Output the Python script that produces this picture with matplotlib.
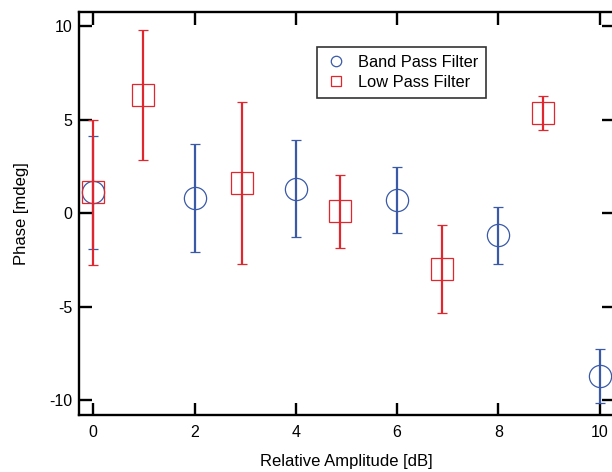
import matplotlib
matplotlib.use("Agg")
import matplotlib.pyplot as plt
from matplotlib.lines import Line2D

plt.rcParams["font.family"] = ["Liberation Sans", "DejaVu Sans"]
plt.rcParams["axes.unicode_minus"] = False

# Band pass filter data
bp_x = [0, 2, 4, 6, 8, 10]
bp_y = [1.1, 0.8, 1.3, 0.7, -1.2, -8.7]
bp_err = [3.0, 2.9, 2.6, 1.75, 1.5, 1.45]

# Low pass filter data
lp_x = [0, 0.99, 2.93, 4.87, 6.88, 8.88]
lp_y = [1.1, 6.3, 1.6, 0.1, -3.0, 5.35]
lp_err = [3.9, 3.47, 4.35, 1.95, 2.35, 0.9]

blue = "#3a5aa8"
red = "#e0262e"

fig = plt.figure(figsize=(6.12, 4.72), dpi=100)
ax = fig.add_axes([79 / 612, 1 - 415 / 472, 535 / 612, 403 / 472])

ax.errorbar(bp_x, bp_y, yerr=bp_err, fmt="o", ms=16, mfc="none", mec=blue,
            mew=0.9, ecolor=blue, elinewidth=1.6, capsize=3.6, capthick=1.6)
ax.errorbar(lp_x, lp_y, yerr=lp_err, fmt="s", ms=16.5, mfc="none", mec=red,
            mew=0.9, ecolor=red, elinewidth=1.6, capsize=3.6, capthick=1.6)

ax.set_xlim(-0.28, 10.28)
ax.set_ylim(-10.8, 10.75)
ax.set_xticks([0, 2, 4, 6, 8, 10])
ax.set_yticks([-10, -5, 0, 5, 10])

for s in ax.spines.values():
    s.set_linewidth(1.7)
ax.tick_params(direction="in", length=9, width=1.7, top=True, right=True,
               labelsize=11.5)
ax.tick_params(axis="x", pad=7)
ax.tick_params(axis="y", pad=5)

ax.set_xlabel("Relative Amplitude [dB]", fontsize=12, labelpad=10)
ax.set_ylabel("Phase [mdeg]", fontsize=12, labelpad=14)

handles = [
    Line2D([], [], ls="none", marker="o", ms=7.5, mfc="none", mec=blue, mew=0.9),
    Line2D([], [], ls="none", marker="s", ms=7, mfc="none", mec=red, mew=0.9),
]
leg = ax.legend(handles, ["Band Pass Filter", "Low Pass Filter"],
                loc="upper left", bbox_to_anchor=(317 / 612, 1 - 47 / 472),
                bbox_transform=fig.transFigure, borderaxespad=0,
                fontsize=11.8, frameon=True, fancybox=False,
                edgecolor="black", borderpad=0.48, handlelength=1.3,
                handletextpad=0.7, labelspacing=0.3)
leg.get_frame().set_linewidth(1.2)

fig.savefig("out.png", dpi=100)
